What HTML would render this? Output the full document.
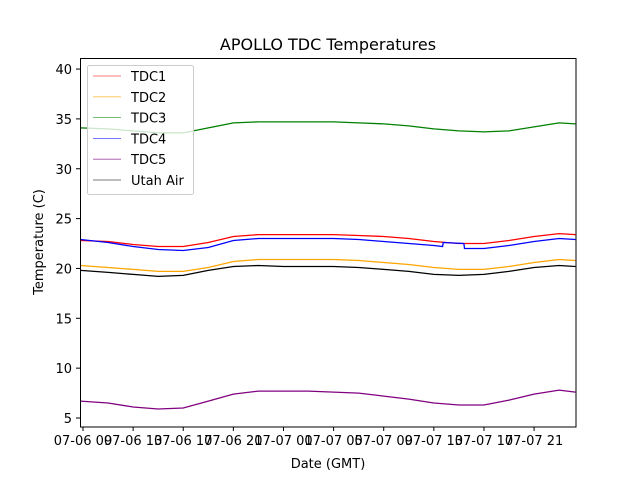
<!DOCTYPE html>
<html><head><meta charset="utf-8"><style>
body{margin:0;background:#fff;font-family:"Liberation Sans","DejaVu Sans",sans-serif}
svg text{font-family:"DejaVu Sans","Liberation Sans",sans-serif}
</style></head><body>
<svg id="chart" width="640" height="480" xmlns="http://www.w3.org/2000/svg">
<rect width="640" height="480" fill="#fff"/>
<text x="328" y="50" font-size="16" text-anchor="middle">APOLLO TDC Temperatures</text>
<g id="plot"></g>
<rect x="80.5" y="58.5" width="495.5" height="368.5" fill="none" stroke="#000" stroke-width="1"/>
<g id="axes"></g>
<text x="328" y="468" font-size="13" text-anchor="middle">Date (GMT)</text>
<text transform="translate(43,242) rotate(-90)" font-size="13" text-anchor="middle">Temperature (C)</text>
<g id="legend"></g>
</svg>
<script>
const hours = [-0.2,2,4,6,8,10,12,14,16,18,20,22,24,26,28,30,32,34,36,38,39.3];
const tdc1 = [22.8,22.7,22.4,22.2,22.2,22.6,23.2,23.4,23.4,23.4,23.4,23.3,23.2,23.0,22.7,22.5,22.5,22.8,23.2,23.5,23.4];
const tdc2 = [20.3,20.1,19.9,19.7,19.7,20.1,20.7,20.9,20.9,20.9,20.9,20.8,20.6,20.4,20.1,19.9,19.9,20.2,20.6,20.9,20.8];
const tdc3 = [34.1,34.0,33.8,33.6,33.6,34.1,34.6,34.7,34.7,34.7,34.7,34.6,34.5,34.3,34.0,33.8,33.7,33.8,34.2,34.6,34.5];
const tdc4Hours = [-0.2,2,4,6,8,10,12,14,16,18,20,22,24,26,28,28.7,28.75,30.4,30.45,32,34,36,38,39.3];
const tdc4 = [22.9,22.6,22.2,21.9,21.8,22.1,22.8,23.0,23.0,23.0,23.0,22.9,22.7,22.5,22.3,22.2,22.6,22.5,22.0,22.0,22.3,22.7,23.0,22.9];
const tdc5 = [6.7,6.5,6.1,5.9,6.0,6.7,7.4,7.7,7.7,7.7,7.6,7.5,7.2,6.9,6.5,6.3,6.3,6.8,7.4,7.8,7.6];
const utahAir = [19.8,19.6,19.4,19.2,19.3,19.8,20.2,20.3,20.2,20.2,20.2,20.1,19.9,19.7,19.4,19.3,19.4,19.7,20.1,20.3,20.2];
const xTickHours = [0,4,8,12,16,20,24,28,32,36];
const xTickLabels = ["07-06 09","07-06 13","07-06 17","07-06 21","07-07 01","07-07 05","07-07 09","07-07 13","07-07 17","07-07 21"];
const yTicks = [5,10,15,20,25,30,35,40];

const NS="http://www.w3.org/2000/svg";
const xS = h => 83 + h*12.53;
const yS = v => 418 - (v-5)*9.97;
function mk(tag, attrs, parent){const e=document.createElementNS(NS,tag);for(const k in attrs)e.setAttribute(k,attrs[k]);parent.appendChild(e);return e;}
const plot=document.getElementById('plot'), axes=document.getElementById('axes'), legend=document.getElementById('legend');
const series=[
 {name:"TDC1",h:hours,v:tdc1,c:"#ff0000",id:"tdc1-line"},
 {name:"TDC2",h:hours,v:tdc2,c:"#ffa500",id:"tdc2-line"},
 {name:"TDC3",h:hours,v:tdc3,c:"#008000",id:"tdc3-line"},
 {name:"TDC4",h:tdc4Hours,v:tdc4,c:"#0000ff",id:"tdc4-line"},
 {name:"TDC5",h:hours,v:tdc5,c:"#800080",id:"tdc5-line"},
 {name:"Utah Air",h:hours,v:utahAir,c:"#000000",id:"utah-air-line"}
];
series.forEach(s=>{
  const pts=s.h.map((h,i)=>xS(h).toFixed(1)+","+yS(s.v[i]).toFixed(1)).join(" ");
  const p=mk('polyline',{points:pts,fill:"none",stroke:s.c,"stroke-width":1.3},plot);
  
  
});
xTickHours.forEach((h,i)=>{
  const x=xS(h);
  const t=mk('line',{x1:x,x2:x,y1:427,y2:431,stroke:"#000"},axes);
  
  
  const l=mk('text',{x:x,y:445,"font-size":13,"text-anchor":"middle"},axes);
  l.textContent=xTickLabels[i];
  
  
});
yTicks.forEach(v=>{
  const y=yS(v);
  const t=mk('line',{x1:76,x2:80,y1:y,y2:y,stroke:"#000"},axes);
  
  
  const l=mk('text',{x:72,y:y+5,"font-size":13,"text-anchor":"end"},axes);
  l.textContent=v;
  
  
});
const box=mk('rect',{x:87.5,y:65.5,width:106,height:129,rx:2,fill:"#fff","fill-opacity":0.8,stroke:"#ccc"},legend);


series.forEach((s,i)=>{
  const y=76+i*20.8;
  const ln=mk('line',{x1:93,x2:121,y1:y,y2:y,stroke:s.c,"stroke-opacity":0.7,"stroke-width":0.8},legend);
  
  
  const tx=mk('text',{x:131,y:y+5,"font-size":13},legend);
  tx.textContent=s.name;
  
  
});
</script>
</body></html>
